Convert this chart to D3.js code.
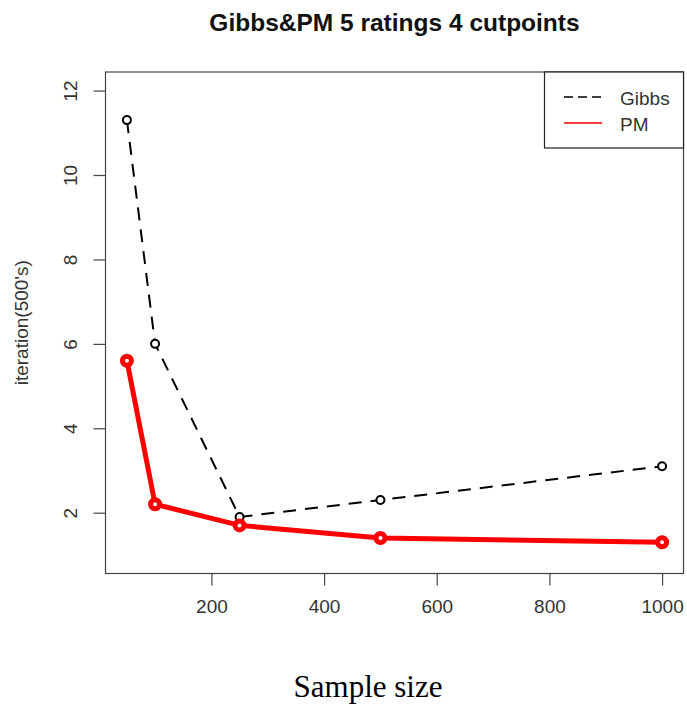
<!DOCTYPE html>
<html>
<head>
<meta charset="utf-8">
<script src="https://cdn.jsdelivr.net/npm/d3@7"></script>
<style>
  body { margin: 0; background: #fff; }
  svg { display: block; }
</style>
</head>
<body>
<svg id="chart" width="687" height="707"></svg>
<script>
// data
const sampleSizes = [50, 100, 250, 500, 1000];
const gibbsIter = [11.3, 6.0, 1.9, 2.3, 3.1];
const pmIter = [5.6, 2.2, 1.7, 1.4, 1.3];
const xTicks = [200, 400, 600, 800, 1000];
const yTicks = [2, 4, 6, 8, 10, 12];
const seriesNames = ['Gibbs', 'PM'];

const svg = d3.select('svg#chart');
const plotLeft = 105.5, plotRight = 683.5, plotTop = 72, plotBottom = 573.5;
const sans = 'Liberation Sans, Arial, sans-serif';

// R style axes: limits padded by 4%
const xScale = d3.scaleLinear()
    .domain([50 - 38, 1000 + 38])
    .range([plotLeft, plotRight]);
const yScale = d3.scaleLinear()
    .domain([1 - 0.44, 12 + 0.44])
    .range([plotBottom, plotTop]);

const axisColor = '#444';

// box
svg.append('rect')
    .attr('x', plotLeft)
    .attr('y', plotTop)
    .attr('width', plotRight - plotLeft)
    .attr('height', plotBottom - plotTop)
    .attr('fill', 'none')
    .attr('stroke', axisColor)
    .attr('stroke-width', 1.2);

// x axis
const xAxis = svg.append('g')
    .attr('transform', `translate(0, ${plotBottom})`)
    .call(d3.axisBottom(xScale).tickValues(xTicks).tickFormat(d3.format('d')).tickSize(12));
xAxis.select('.domain').remove();
xAxis.selectAll('line').attr('stroke', axisColor).attr('stroke-width', 1.2);
xAxis.selectAll('text')
    .attr('y', 39)
    .attr('dy', 0)
    .attr('font-family', sans)
    .attr('font-size', 19)
    .attr('fill', '#333');

// y axis, labels turned like R's default
const yAxis = svg.append('g')
    .attr('transform', `translate(${plotLeft}, 0)`)
    .call(d3.axisLeft(yScale).tickValues(yTicks).tickSize(12));
yAxis.select('.domain').remove();
yAxis.selectAll('line').attr('stroke', axisColor).attr('stroke-width', 1.2);
yAxis.selectAll('text')
    .attr('x', 0)
    .attr('dy', 0)
    .attr('transform', 'translate(-29, 0) rotate(-90)')
    .attr('text-anchor', 'middle')
    .attr('font-family', sans)
    .attr('font-size', 19)
    .attr('fill', '#333');

const line = d3.line()
    .x(d => xScale(d[0]))
    .y(d => yScale(d[1]));

const gibbs = sampleSizes.map((s, i) => [s, gibbsIter[i]]);
const pm = sampleSizes.map((s, i) => [s, pmIter[i]]);

// Gibbs: dashed black, small open circles
svg.append('path')
    .datum(gibbs)
    .attr('d', line)
    .attr('fill', 'none')
    .attr('stroke', '#000')
    .attr('stroke-width', 2)
    .attr('stroke-dasharray', '13,9');
svg.selectAll('circle.gibbs')
    .data(gibbs)
    .enter()
    .append('circle')
    .attr('class', 'gibbs')
    .attr('cx', d => xScale(d[0]))
    .attr('cy', d => yScale(d[1]))
    .attr('r', 4)
    .attr('fill', '#fff')
    .attr('stroke', '#000')
    .attr('stroke-width', 2);

// PM: thick red line with circles
svg.append('path')
    .datum(pm)
    .attr('d', line)
    .attr('fill', 'none')
    .attr('stroke', '#ff0000')
    .attr('stroke-width', 5);
svg.selectAll('circle.pm')
    .data(pm)
    .enter()
    .append('circle')
    .attr('class', 'pm')
    .attr('cx', d => xScale(d[0]))
    .attr('cy', d => yScale(d[1]))
    .attr('r', 4.5)
    .attr('fill', '#fff')
    .attr('stroke', '#ff0000')
    .attr('stroke-width', 5);

// legend
const legend = svg.append('g');
legend.append('rect')
    .attr('x', 544.5)
    .attr('y', plotTop)
    .attr('width', plotRight - 544.5)
    .attr('height', 76)
    .attr('fill', '#fff')
    .attr('stroke', '#222')
    .attr('stroke-width', 1.2);
const legendStyles = [
    { color: '#000', dash: '9,5', width: 1.5 },
    { color: '#ff0000', dash: null, width: 1.5 }
];
seriesNames.forEach((name, i) => {
    const y = 97 + i * 26;
    legend.append('line')
        .attr('x1', 564).attr('x2', 602)
        .attr('y1', y).attr('y2', y)
        .attr('stroke', legendStyles[i].color)
        .attr('stroke-width', legendStyles[i].width)
        .attr('stroke-dasharray', legendStyles[i].dash);
    legend.append('text')
        .attr('x', 620)
        .attr('y', y + 8)
        .attr('font-family', sans)
        .attr('font-size', 19)
        .attr('fill', '#333')
        .text(name);
});

// labels
svg.append('text')
    .attr('x', (plotLeft + plotRight) / 2)
    .attr('y', 31)
    .attr('text-anchor', 'middle')
    .attr('font-family', sans)
    .attr('font-weight', 'bold')
    .attr('font-size', 24.5)
    .attr('fill', '#111')
    .text('Gibbs&PM 5 ratings 4 cutpoints');

svg.append('text')
    .attr('transform', `translate(28, ${(plotTop + plotBottom) / 2}) rotate(-90)`)
    .attr('text-anchor', 'middle')
    .attr('font-family', sans)
    .attr('font-size', 19)
    .attr('fill', '#333')
    .text("iteration(500's)");

svg.append('text')
    .attr('x', 368)
    .attr('y', 697)
    .attr('text-anchor', 'middle')
    .attr('font-family', 'Liberation Serif, Times New Roman, serif')
    .attr('font-size', 31)
    .attr('fill', '#000')
    .text('Sample size');
</script>
</body>
</html>
